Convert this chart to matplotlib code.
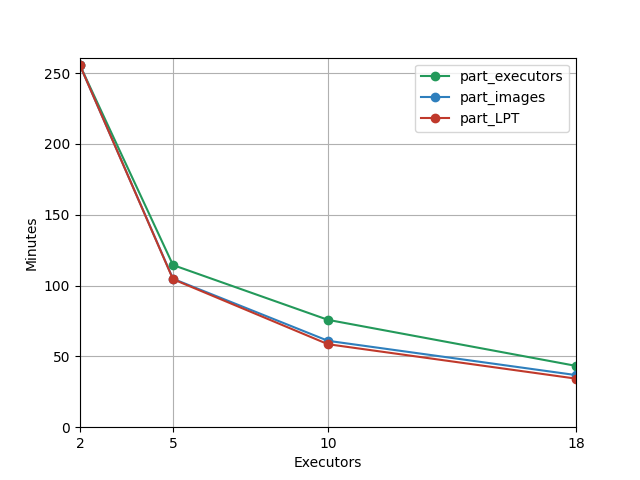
import matplotlib
matplotlib.use("Agg")
import matplotlib.pyplot as plt

executors = [2, 5, 10, 18]
part_executors = [255.5, 114.5, 75.8, 43.3]
part_images = [255.5, 104.8, 61.0, 36.8]
part_LPT = [255.5, 104.5, 58.6, 34.3]

fig, ax = plt.subplots(figsize=(6.4, 4.8), dpi=100)
ax.plot(executors, part_executors, marker='o', color='#23995a', label='part_executors')
ax.plot(executors, part_images, marker='o', color='#2e7fbd', label='part_images')
ax.plot(executors, part_LPT, marker='o', color='#c0392b', label='part_LPT')

ax.set_xlim(2, 18)
ax.set_ylim(0, 261)
ax.set_xticks(executors)
ax.set_xlabel('Executors')
ax.set_ylabel('Minutes')
ax.grid(True)
ax.legend(loc='upper right')

fig.savefig('out.png')
